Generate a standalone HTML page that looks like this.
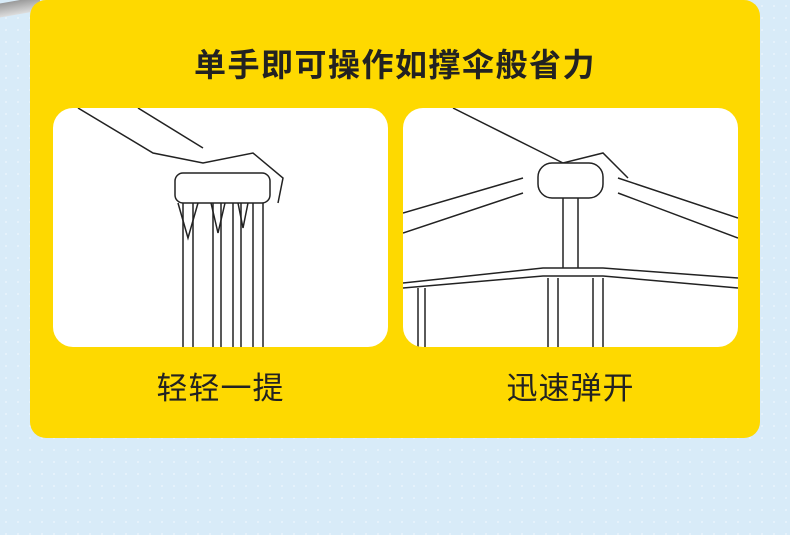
<!DOCTYPE html><html><head><style>
body{margin:0;width:790px;height:535px;overflow:hidden;background:#d8ebf8;background-image:radial-gradient(#e6f2fb 1px,transparent 1.2px);background-size:12px 12px;font-family:"Liberation Sans","Noto Sans CJK SC",sans-serif;position:relative}
.card{position:absolute;left:30px;top:0;width:730px;height:438px;background:#fed900;border-radius:16px}
.t{position:absolute;left:0;width:790px;top:40px;text-align:center;font-size:32px;font-weight:bold;color:#222;letter-spacing:1.5px}
.p{position:absolute;top:108px;width:335px;height:239px;background:#fff;border-radius:20px;overflow:hidden}
.l{position:absolute;top:363px;font-size:31px;color:#222;text-align:center;width:335px;letter-spacing:1px}
</style></head><body>
<div style="position:absolute;left:0;top:0;width:40px;height:14px;background:linear-gradient(#999,#ddd);transform:skewY(-10deg)"></div>
<div class="card"></div>
<div class="t">单手即可操作如撑伞般省力</div>
<div class="p" style="left:53px"><svg width="335" height="239" fill="none" stroke="#222" stroke-width="1.5">
<path d="M25 0 L100 45 L150 55 L200 45 L230 70 L225 95"/><path d="M85 0 L150 40"/>
<rect x="122" y="65" width="95" height="30" rx="8" fill="#fff"/>
<path d="M130 95 V239 M140 95 V239 M160 95 V239 M168 95 V239 M180 95 V239 M188 95 V239 M200 95 V239 M210 95 V239"/>
<path d="M125 95 L135 130 L145 95 M158 95 L165 125 L172 95 M185 95 L190 120 L195 95"/></svg></div>
<div class="p" style="left:403px"><svg width="335" height="239" fill="none" stroke="#222" stroke-width="1.5">
<path d="M50 0 L130 40 L160 55 L200 45 L225 70"/>
<rect x="135" y="55" width="65" height="35" rx="14" fill="#fff"/>
<path d="M0 105 L120 70 M0 125 L120 85 M215 70 L335 110 M215 85 L335 130"/>
<path d="M160 90 V160 M175 90 V160"/>
<path d="M0 175 L140 160 L200 160 L335 170 M0 180 L140 168 L200 168 L335 180"/>
<path d="M145 170 V239 M155 170 V239 M190 170 V239 M200 170 V239 M15 180 V239 M22 180 V239"/></svg></div>
<div class="l" style="left:53px">轻轻一提</div>
<div class="l" style="left:403px">迅速弹开</div>
</body></html>
